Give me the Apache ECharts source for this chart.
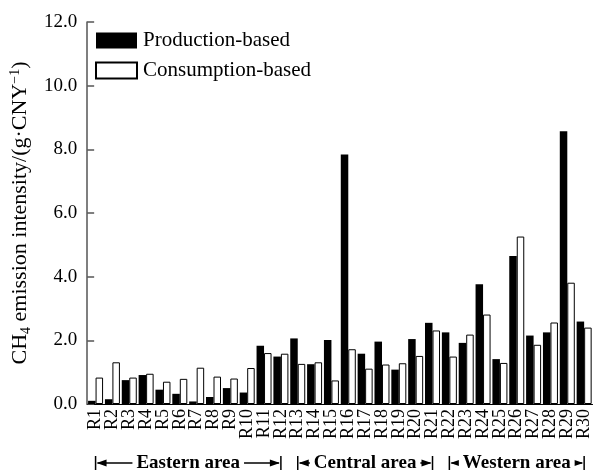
<!DOCTYPE html>
<html>
<head>
<meta charset="utf-8">
<script src="https://cdn.jsdelivr.net/npm/echarts@6/dist/echarts.min.js"></script>
<style>html,body{margin:0;padding:0;background:#fff;}#c{width:593px;height:474px;}</style>
</head>
<body>
<div id="c"></div>
<script>
const categories = ['R1','R2','R3','R4','R5','R6','R7','R8','R9','R10','R11','R12','R13','R14','R15','R16','R17','R18','R19','R20','R21','R22','R23','R24','R25','R26','R27','R28','R29','R30'];
const production = [0.10,0.15,0.75,0.91,0.45,0.32,0.08,0.22,0.50,0.36,1.83,1.49,2.06,1.25,2.01,7.84,1.58,1.96,1.08,2.04,2.55,2.25,1.92,3.76,1.41,4.65,2.15,2.25,8.57,2.59];
const consumption = [0.83,1.31,0.83,0.95,0.70,0.79,1.14,0.86,0.80,1.13,1.60,1.58,1.26,1.31,0.74,1.72,1.11,1.24,1.28,1.51,2.31,1.49,2.18,2.81,1.29,5.26,1.86,2.56,3.81,2.40];
const yTicks = [0,2,4,6,8,10,12];
const regions = [
  {name:'Eastern area', from:'R1', to:'R12'},
  {name:'Central area', from:'R13', to:'R21'},
  {name:'Western area', from:'R22', to:'R30'}
];

const FONT = 'Liberation Serif, Times New Roman, serif';
const chart = echarts.init(document.getElementById('c'), null, {renderer:'canvas'});
chart.setOption({
  animation:false,
  backgroundColor:'#fff',
  grid:{left:81, right:-2, top:22, bottom:70, containLabel:false},
  legend:{
    orient:'vertical', left:95, top:30, padding:0,
    itemWidth:41, itemHeight:16, itemGap:9, icon:'rect',
    textStyle:{fontFamily:FONT, fontSize:21, color:'#000', lineHeight:16, padding:[0,0,0,1]},
    data:['Production-based','Consumption-based']
  },
  xAxis:{
    type:'category', data:categories,
    axisLine:{show:true, lineStyle:{color:'#000', width:1}},
    axisTick:{show:false},
    axisLabel:{rotate:90, interval:0, margin:5, fontFamily:FONT, fontSize:18, color:'#000'}
  },
  yAxis:{
    type:'value', min:0, max:12, interval:2,
    name:'{a|CH}{s|4}{a| emission intensity/(g·CNY}{p|−1}{a|)}',
    nameLocation:'middle', nameGap:47, nameRotate:90,
    nameTextStyle:{
      fontFamily:FONT, fontSize:22, color:'#000',
      rich:{
        a:{fontFamily:FONT, fontSize:22, color:'#000', lineHeight:24},
        s:{fontFamily:FONT, fontSize:14, color:'#000', lineHeight:24, padding:[11,0,0,0]},
        p:{fontFamily:FONT, fontSize:14, color:'#000', lineHeight:24, padding:[0,0,11,0]}
      }
    },
    axisLine:{show:true, lineStyle:{color:'#555', width:1.5}},
    axisTick:{show:true, inside:true, length:7, lineStyle:{color:'#555', width:1.5}},
    splitLine:{show:false},
    axisLabel:{margin:10, fontFamily:FONT, fontSize:19, color:'#000',
      customValues: yTicks,
      formatter:v=>v.toFixed(1)}
  },
  series:[
    {name:'Production-based', type:'bar', data:production, barWidth:7.5, barGap:'0%',
     itemStyle:{color:'#000', borderColor:'#000', borderWidth:0}},
    {name:'Consumption-based', type:'bar', data:consumption, barWidth:7.5, barGap:'0%',
     itemStyle:{color:'#fff', borderColor:'#000', borderWidth:1}}
  ]
});

// Region annotations positioned via the axis scale
const yA = 463;
const g = [];
regions.forEach(r=>{
  const x1 = chart.convertToPixel({xAxisIndex:0}, r.from);
  const x2 = chart.convertToPixel({xAxisIndex:0}, r.to);
  const mid = (x1+x2)/2;
  g.push({type:'line', shape:{x1:x1, y1:yA-7, x2:x1, y2:yA+7}, style:{stroke:'#000', lineWidth:1.5}});
  g.push({type:'line', shape:{x1:x2, y1:yA-7, x2:x2, y2:yA+7}, style:{stroke:'#000', lineWidth:1.5}});
  g.push({type:'line', shape:{x1:x1+2, y1:yA, x2:x2-2, y2:yA}, style:{stroke:'#000', lineWidth:1.5}});
  g.push({type:'polygon', shape:{points:[[x1+1,yA],[x1+11,yA-3.5],[x1+11,yA+3.5]]}, style:{fill:'#000'}});
  g.push({type:'polygon', shape:{points:[[x2-1,yA],[x2-11,yA-3.5],[x2-11,yA+3.5]]}, style:{fill:'#000'}});
  g.push({type:'text', x:mid, y:yA, z:10, style:{text:r.name, fontFamily:FONT, fontSize:19, fontWeight:'bold', fill:'#000',
    align:'center', verticalAlign:'middle', backgroundColor:'#fff', padding:[0,4,0,4]}});
});
chart.setOption({graphic:g});
</script>
</body>
</html>
